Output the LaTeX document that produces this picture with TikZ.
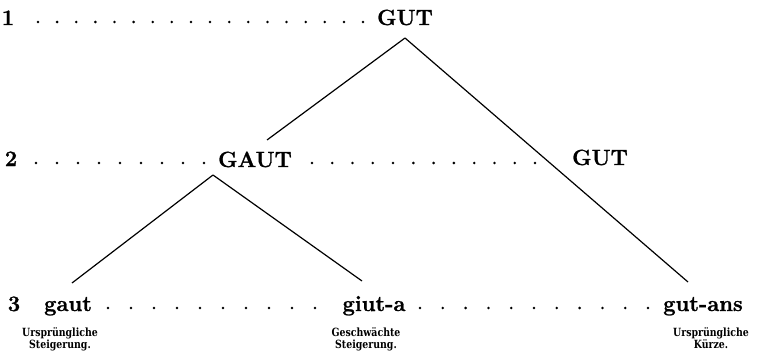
\documentclass[tikz,border=0pt]{standalone}
\usepackage{fontspec}
\newfontfamily\wordfont{Latin Modern Roman}[FakeBold=1.2]
\newfontfamily\notefont{DejaVu Serif}[FakeStretch=0.83]
\usetikzlibrary{calc}
\begin{document}
\begin{tikzpicture}[x=1pt,y=-1pt,
  word/.style={font=\fontsize{22}{26}\selectfont\wordfont\bfseries, inner sep=0pt, anchor=base},
  note/.style={font=\fontsize{11.3}{12.2}\selectfont\notefont\bfseries, inner sep=0pt, anchor=north, align=center},
  branch/.style={line width=1.2pt},
  leader/.style={line width=2.8pt, line cap=round, dash pattern=on 0pt off #1}]
\useasboundingbox (0,0) rectangle (758,359);
% row labels
\node[word] (r1) at (8,25) {1};
\node[word] (r2) at (11,166) {2};
\node[word] (r3) at (14,311) {3};
% words
\node[word] (gut1) at (405,25) {GUT};
\node[word] (gaut2) at (255,167) {GAUT};
\node[word] (gut2) at (600,165) {GUT};
\node[word] (gaut3) at (68,311) {gaut};
\node[word] (giut3) at (374,311) {giut-a};
\node[word] (gutans3) at (703,311) {gut-ans};
% notes
\node[note] (n1) at (60,327) {Ursprüngliche\\Steigerung.};
\node[note] (n2) at (366,327) {Geschwächte\\Steigerung.};
\node[note] (n3) at (711,327) {Ursprüngliche\\Kürze.};
% branch points
\coordinate (a1) at ($(gut1.base)+(0,13)$);
\coordinate (a2) at ($(gaut2.base)+(-42,8)$);
\coordinate (e2) at ($(gaut2.base)+(12,-27)$);
\coordinate (e3a) at ($(gaut3.base)+(4,-28)$);
\coordinate (e3b) at ($(giut3.base)+(-12,-30)$);
\coordinate (e3c) at ($(gutans3.base)+(-15,-29)$);
\draw[branch] (a1) -- (e2);
\draw[branch] (a1) -- (e3c);
\draw[branch] (a2) -- (e3a);
\draw[branch] (a2) -- (e3b);
% dotted leaders
\coordinate (d1s) at (38,22);   \coordinate (d1e) at (364,22);
\coordinate (d2s) at (36,163);  \coordinate (d2e) at (205,163);
\coordinate (d3s) at (312,163); \coordinate (d3e) at (536,163);
\coordinate (d4s) at (108,308); \coordinate (d4e) at (316,308);
\coordinate (d5s) at (420,308); \coordinate (d5e) at (649,308);
\draw[leader=19.12pt] (d1s) -- (d1e);
\draw[leader=21pt] (d2s) -- (d2e);
\draw[leader=20.27pt] (d3s) -- (d3e);
\draw[leader=23pt] (d4s) -- (d4e);
\draw[leader=22.8pt] (d5s) -- (d5e);
\end{tikzpicture}
\end{document}
